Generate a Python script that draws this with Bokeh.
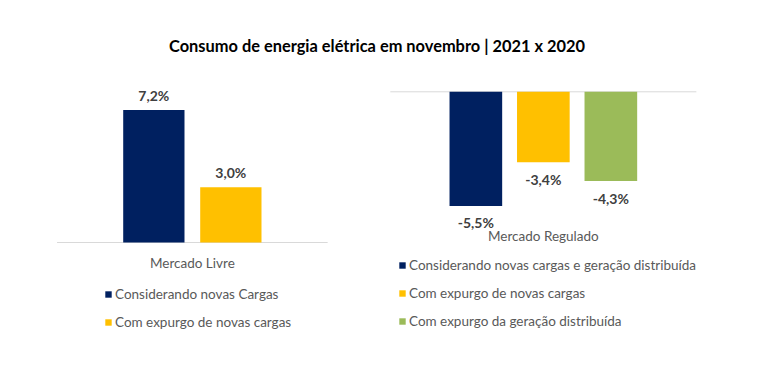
from bokeh.plotting import figure
from bokeh.models import Range1d, Legend, LegendItem, ColumnDataSource
from bokeh.core.properties import value
from bokeh.embed import file_html
from bokeh.resources import INLINE

# ---------------- data ----------------
title_text = "Consumo de energia elétrica em novembro | 2021 x 2020"

livre_category = "Mercado Livre"
livre_series = ["Considerando novas Cargas", "Com expurgo de novas cargas"]
livre_values = [7.2, 3.0]

regulado_category = "Mercado Regulado"
regulado_series = ["Considerando novas cargas e geração distribuída",
                   "Com expurgo de novas cargas",
                   "Com expurgo da geração distribuída"]
regulado_values = [-5.5, -3.4, -4.3]

colors = ["#002060", "#FFC000", "#9BBB59"]

# ---------------- layout ----------------
W, H = 747, 349
O = 0  # screen offset of the figure in the picture
FONT = "Lato"
LABEL_C = "#404040"
TEXT_C = "#595959"
AXIS_C = "#D9D9D9"


def fmt(v):
    return f"{v:.1f}%".replace(".", ",")


p = figure(width=W, height=H, output_backend="svg", toolbar_location=None,
           x_range=Range1d(O, O + W), y_range=Range1d(O + H, O),
           x_axis_type=None, y_axis_type=None, min_border=0,
           outline_line_color=None, background_fill_color="white",
           border_fill_color="white")
p.grid.visible = False

# left panel scales (Mercado Livre)
p.extra_x_ranges["xl"] = Range1d(-(153.35 - O) / 77.0, (O + W - 153.35) / 77.0)
p.extra_y_ranges["yl"] = Range1d(-(O + H - 242) / 18.4, (242 - O) / 18.4)
# right panel scales (Mercado Regulado)
p.extra_x_ranges["xr"] = Range1d(-(475.35 - O) / 67.5, (O + W - 475.35) / 67.5)
p.extra_y_ranges["yr"] = Range1d(-(O + H - 91.3) / 20.75, (91.3 - O) / 20.75)

# title
p.text(x=[376.5], y=[45], text=[title_text], text_font=value(FONT),
       text_font_style="bold", text_font_size="16.4px", text_color="black",
       text_align="center", text_baseline="middle")

# ---- Mercado Livre ----
nL = len(livre_values)
srcL = ColumnDataSource(dict(x=list(range(nL)), top=livre_values,
                             color=colors[:nL], label=[fmt(v) for v in livre_values]))
midL = (nL - 1) / 2
p.segment(x0=[midL - 1.757], x1=[midL + 1.757], y0=[0], y1=[0],
          line_color=AXIS_C, line_width=1, x_range_name="xl", y_range_name="yl")
rL = p.vbar(x="x", top="top", bottom=0, width=0.796, fill_color="color",
            line_color=None, source=srcL, x_range_name="xl", y_range_name="yl")
p.text(x="x", y="top", text="label", source=srcL, x_range_name="xl", y_range_name="yl",
       text_font=value(FONT), text_font_style="bold", text_font_size="14px",
       text_color=LABEL_C, text_align="center", text_baseline="middle", y_offset=-15)
p.text(x=[midL], y=[0], text=[livre_category], x_range_name="xl", y_range_name="yl",
       text_font=value(FONT), text_font_size="13.5px", text_color=TEXT_C,
       text_align="center", text_baseline="middle", y_offset=20)

# ---- Mercado Regulado ----
nR = len(regulado_values)
srcR = ColumnDataSource(dict(x=list(range(nR)), top=regulado_values,
                             color=colors[:nR], label=[fmt(v) for v in regulado_values]))
midR = (nR - 1) / 2
p.segment(x0=[midR - 2.267], x1=[midR + 2.267], y0=[0], y1=[0],
          line_color=AXIS_C, line_width=1, x_range_name="xr", y_range_name="yr")
rR = p.vbar(x="x", top=0, bottom="top", width=0.78, fill_color="color",
            line_color=None, source=srcR, x_range_name="xr", y_range_name="yr")
p.text(x="x", y="top", text="label", source=srcR, x_range_name="xr", y_range_name="yr",
       text_font=value(FONT), text_font_style="bold", text_font_size="14px",
       text_color=LABEL_C, text_align="center", text_baseline="middle", y_offset=17)
p.text(x=[midR], y=[min(regulado_values)], text=[regulado_category],
       x_range_name="xr", y_range_name="yr",
       text_font=value(FONT), text_font_size="13.5px", text_color=TEXT_C,
       text_align="center", text_baseline="middle", y_offset=30)

# ---- legends ----
def make_legend(renderer, labels, loc):
    items = [LegendItem(label=lab, renderers=[renderer], index=i)
             for i, lab in enumerate(labels)]
    return Legend(items=items, location=loc, orientation="vertical",
                  border_line_color=None, background_fill_alpha=0,
                  padding=0, margin=0, spacing=8,
                  glyph_width=8, glyph_height=8, label_standoff=3,
                  label_height=20, label_text_font=FONT,
                  label_text_font_size="13.5px", label_text_color=TEXT_C,
                  label_text_baseline="middle")

p.add_layout(make_legend(rL, livre_series, (104 - O, H + O - 332)))
p.add_layout(make_legend(rR, regulado_series, (398 - O, H + O - 331)))

open("out.html", "w").write(file_html(p, INLINE))
